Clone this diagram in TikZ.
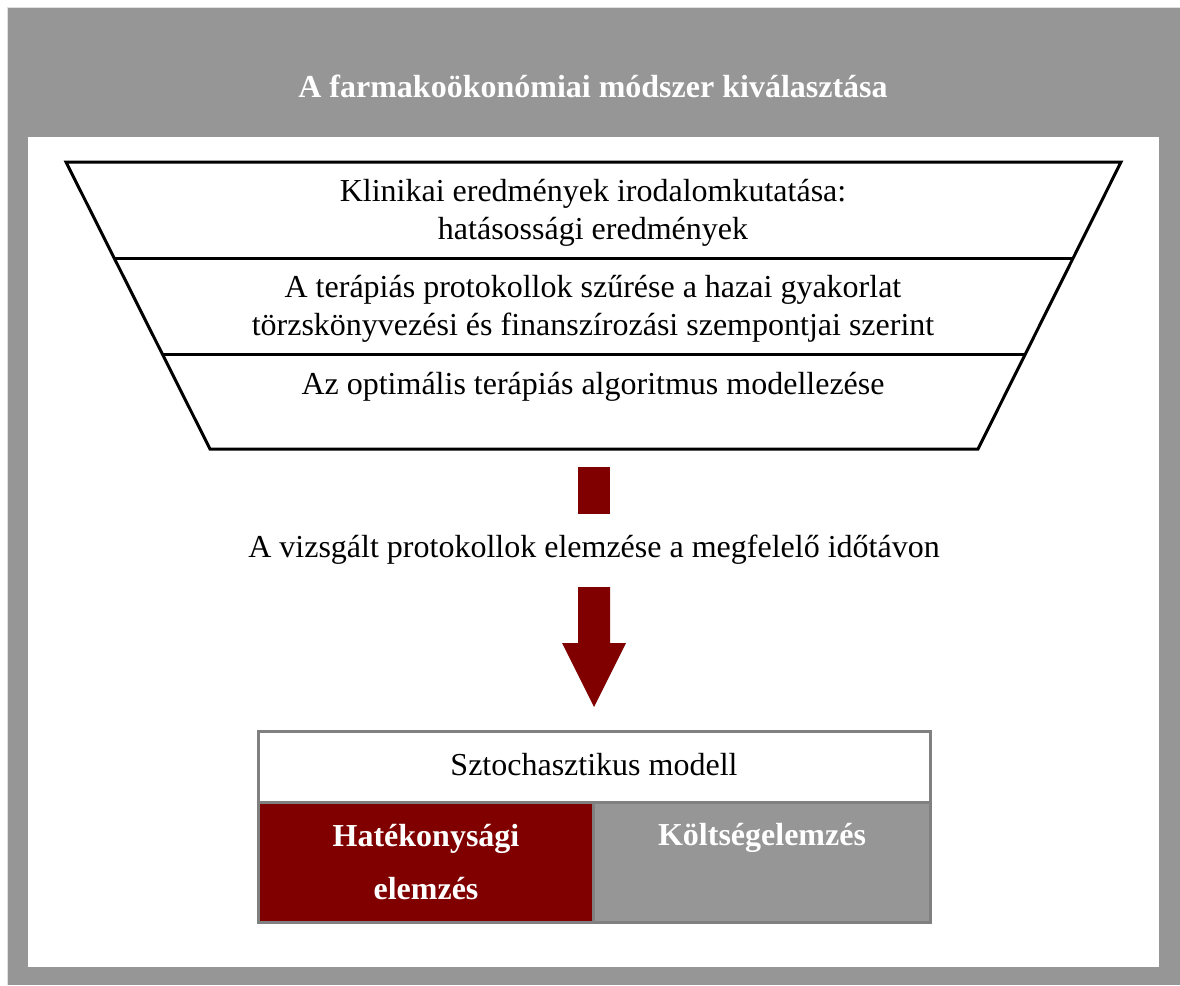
\documentclass[tikz,border=0pt]{standalone}
\usepackage{fontspec}
\setmainfont{Liberation Serif}
\definecolor{panelgray}{RGB}{150,150,150}
\definecolor{edgegray}{RGB}{128,128,128}
\definecolor{maroon}{RGB}{128,0,0}
\tikzset{
  funnelline/.style={line width=3pt, line join=miter},
  bodytext/.style={font=\fontsize{32}{38}\selectfont, align=center, inner sep=0pt},
  headtext/.style={font=\fontsize{32}{38}\selectfont\bfseries, text=white, align=center, inner sep=0pt},
  cell/.style={draw=edgegray, line width=3pt},
}
\begin{document}
\begin{tikzpicture}[x=1pt,y=-1pt]
\useasboundingbox (0,0) rectangle (1180,985);
% frame and white panel
\fill[white] (0,0) rectangle (1180,985);
\fill[panelgray] (7,7) rectangle (1180,985);
\draw[black!12, line width=1pt] (7,985) -- (7,7) -- (1180,7);
\fill[white] (28,137) rectangle (1159,967);
\node[headtext] (title) at (593,86) {A farmakoökonómiai módszer kiválasztása};

% funnel
\draw[funnelline] (66,162) -- (1121,162) -- (978,449) -- (210,449) -- cycle;
\draw[funnelline] (114,258) -- (1073,258);
\draw[funnelline] (162,354) -- (1025,354);
\node[bodytext] (lit) at (593,213) {Klinikai eredmények irodalomkutatása:\\hatásossági eredmények};
\node[bodytext] (prot) at (593,309) {A terápiás protokollok szűrése a hazai gyakorlat\\törzskönyvezési és finanszírozási szempontjai szerint};
\node[bodytext] (algo) at (593,387) {Az optimális terápiás algoritmus modellezése};

% flow markers
\fill[maroon] (578,467) rectangle (610,514);
\node[bodytext] (anal) at (594,550) {A vizsgált protokollok elemzése a megfelelő időtávon};
\fill[maroon] (578,587) -- (610,587) -- (610,643) -- (626,643) -- (594,707) -- (562,643) -- (578,643) -- cycle;

% model table
\draw[cell, fill=white] (258,731) rectangle (930,802);
\draw[cell, fill=maroon] (258,802) rectangle (593,922);
\draw[cell, fill=panelgray] (593,802) rectangle (930,922);
\node[bodytext] (sto) at (594,765) {Sztochasztikus modell};
\node[headtext, font=\fontsize{32}{53}\selectfont\bfseries] (eff) at (426,862) {Hatékonysági\\elemzés};
\node[headtext] (cost) at (762,838) {Költségelemzés};
\end{tikzpicture}
\end{document}
